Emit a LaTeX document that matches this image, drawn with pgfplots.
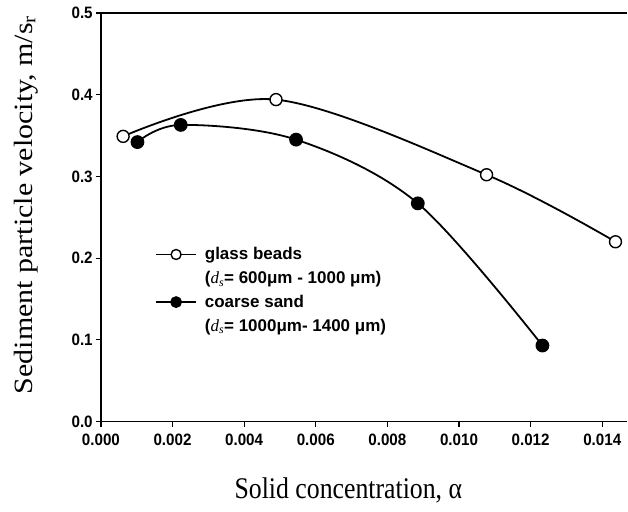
\documentclass[border=0pt]{standalone}
\usepackage{fontspec}
\setmainfont{Liberation Serif}
\setsansfont{Liberation Sans}
\usepackage{pgfplots}
\pgfplotsset{compat=1.18}
\begin{document}
\begin{tikzpicture}
\begin{axis}[
  scale only axis,
  width=527pt, height=409pt,
  xmin=0, xmax=0.0147, ymin=0, ymax=0.5,
  axis x line*=bottom, axis y line*=left,
  axis line style={line width=1.4pt, -},
  xtick={0,0.002,0.004,0.006,0.008,0.010,0.012,0.014},
  ytick={0,0.1,0.2,0.3,0.4,0.5},
  xticklabels={0.000,0.002,0.004,0.006,0.008,0.010,0.012,0.014},
  yticklabels={0.0,0.1,0.2,0.3,0.4,0.5},
  scaled x ticks=false,
  tick align=outside, major tick length=5pt,
  tick style={line width=1.2pt, black},
  ticklabel style={font=\fontsize{16.5}{18}\selectfont\sffamily\bfseries, xscale=0.92},
  xticklabel style={yshift=-4pt},
  /pgf/number format/assume math mode=true,
  xlabel={Solid concentration, α},
  ylabel={Sediment particle velocity, m/s\textsubscript{r}},
  label style={font=\fontsize{30}{34}\selectfont},
  xlabel style={at={(axis description cs:0.47,0)}, anchor=north, yshift=-53pt, xscale=0.86},
  ylabel style={at={(axis description cs:0,0.53)}, anchor=south, yshift=60pt, yscale=0.88},
  clip=false,
  legend style={at={(axis cs:0.00143,0.218)}, anchor=north west, draw=none, fill=none,
    font=\fontsize{17}{19}\selectfont\sffamily\bfseries, row sep=6pt,
    legend cell align=left,
    /tikz/every odd column/.append style={column sep=6pt}},
  legend image code/.code={\draw[mark repeat=2, mark phase=2, line width=1.8pt, mark size=5pt]
    plot coordinates {(0cm,0cm) (0.7cm,0cm) (1.4cm,0cm)};},
]
\addplot[black, line width=1.8pt, smooth, tension=0.55, mark=*, mark size=6pt,
  mark options={fill=white, line width=1.4pt}]
  coordinates {(0.00062,0.349) (0.00489,0.394) (0.01077,0.302) (0.01437,0.220)};
\addlegendentry{glass beads}
\addlegendimage{empty legend}
\addlegendentry{({\rmfamily\itshape\mdseries d\textsubscript{s}}= 600μm - 1000 μm)}
\addplot[black, line width=1.8pt, smooth, tension=0.55, mark=*, mark size=6pt,
  mark options={fill=black}]
  coordinates {(0.00102,0.342) (0.00223,0.363) (0.00545,0.345) (0.00885,0.267) (0.01233,0.093)};
\addlegendentry{coarse sand}
\addlegendimage{empty legend}
\addlegendentry{({\rmfamily\itshape\mdseries d\textsubscript{s}}= 1000μm- 1400 μm)}
\draw[line width=1.4pt] (axis description cs:0,1) -- (axis description cs:1,1);
\path (axis description cs:-0.1917,1.0318) coordinate (bbtl);
\path (axis description cs:1.0,-0.2200) coordinate (bbbr);
\end{axis}
\path (bbtl) rectangle (bbbr);
\end{tikzpicture}
\end{document}
